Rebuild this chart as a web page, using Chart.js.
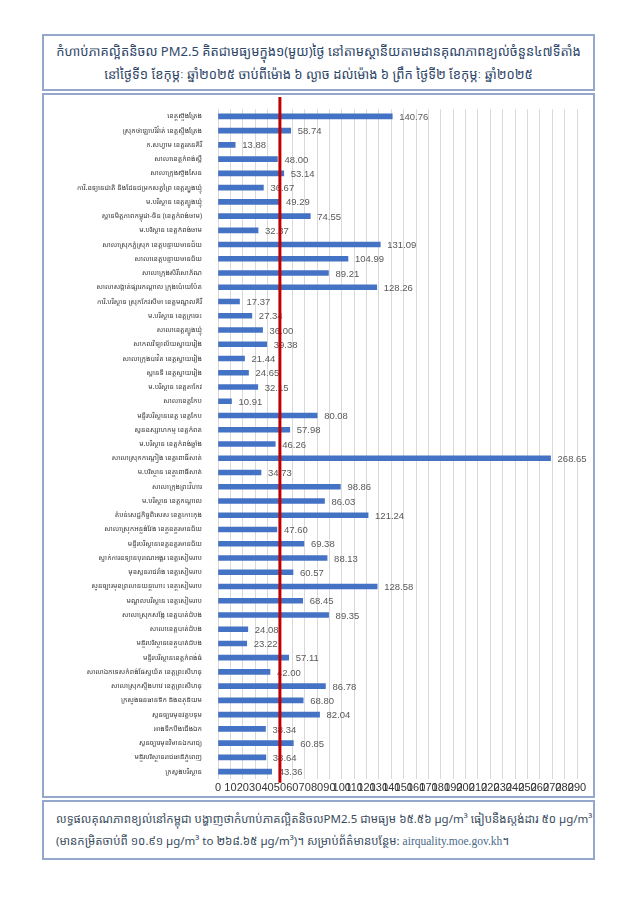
<!DOCTYPE html>
<html lang="km">
<head>
<meta charset="UTF-8">
<title>PM2.5</title>
<script src="https://cdn.jsdelivr.net/npm/chart.js@4.4.1/dist/chart.umd.min.js"></script>
<style>
    body { margin: 0; background: #fff; width: 636px; height: 900px; position: relative; font-family: "Noto Sans Khmer", "Khmer OS", "Noto Sans", "DejaVu Sans", sans-serif; }
    .box { position: absolute; left: 42px; width: 553px; border: 2px solid #94a8cc; box-sizing: border-box; }
    .title { top: 34px; height: 57px; text-align: center; color: #2e4668; font-size: 13px; line-height: 23px; padding-top: 4px; }
    .chartbox { top: 93px; height: 705px; }
    .note { top: 800px; height: 60px; color: #3a4b5e; font-size: 11.5px; line-height: 22px; padding: 6px 0 0 12px; }
    .note .url { font-family: "Liberation Serif", serif; color: #4a6a8a; }
    canvas { position: absolute; left: 2px; top: 2px; }
</style>
</head>
<body>
    <div class="box title">កំហាប់ភាគល្អិតនិចល PM2.5 គិតជាមធ្យមក្នុង១(មួយ)ថ្ងៃ នៅតាមស្ថានីយតាមដានគុណភាពខ្យល់ចំនួន៤៧ទីតាំង<br>នៅថ្ងៃទី១ ខែកុម្ភៈ ឆ្នាំ២០២៥ ចាប់ពីម៉ោង ៦ ល្ងាច ដល់ម៉ោង ៦ ព្រឹក ថ្ងៃទី២ ខែកុម្ភៈ ឆ្នាំ២០២៥</div>
    <div class="box chartbox"><canvas id="pm25" width="549" height="701"></canvas></div>
    <div class="box note">លទ្ធផលគុណភាពខ្យល់នៅកម្ពុជា បង្ហាញថាកំហាប់ភាគល្អិតនិចលPM2.5 ជាមធ្យម ៦៥.៥៦ µg/m³ ធៀបនឹងស្តង់ដារ ៥០ µg/m³<br>(មានកម្រិតចាប់ពី ១០.៩១ µg/m³ to ២៦៨.៦៥ µg/m³)។ សម្រាប់ព័ត៌មានបន្ថែម: <span class="url">airquality.moe.gov.kh</span>។</div>
<script>
    var stations = [
        'ខេត្តស្ទឹងត្រែង',
        'ស្រុកថាឡាបរិវ៉ាត់ ខេត្តស្ទឹងត្រែង',
        'ក.សហ្វាម ខេត្តរតនគិរី',
        'សាលាខេត្តកំពង់ស្ពឺ',
        'សាលាក្រុងស្ទឹងសែន',
        'ការិ.ឧទ្យានជាតិ និងដែនជម្រកសត្វព្រៃ ខេត្តត្បូងឃ្មុំ',
        'ម.បរិស្ថាន ខេត្តត្បូងឃ្មុំ',
        'ស្ពានមិត្តភាពកម្ពុជា-ចិន (ខេត្តកំពង់ចាម)',
        'ម.បរិស្ថាន ខេត្តកំពង់ចាម',
        'សាលាស្រុកភ្នំស្រុក ខេត្តបន្ទាយមានជ័យ',
        'សាលាខេត្តបន្ទាយមានជ័យ',
        'សាលាក្រុងសិរីសោភ័ណ',
        'សាលាសង្កាត់ផ្សារកណ្ដាល ក្រុងប៉ោយប៉ែត',
        'ការិ.បរិស្ថាន ស្រុកកែវសីមា ខេត្តមណ្ឌលគិរី',
        'ម.បរិស្ថាន ខេត្តក្រចេះ',
        'សាលាខេត្តត្បូងឃ្មុំ',
        'សាកលវិទ្យាល័យស្វាយរៀង',
        'សាលាក្រុងបាវិត ខេត្តស្វាយរៀង',
        'ស្ពានទី ខេត្តស្វាយរៀង',
        'ម.បរិស្ថាន ខេត្តតាកែវ',
        'សាលាខេត្តកែប',
        'មន្ទីរបរិស្ថានខេត្ត ខេត្តកែប',
        'សួនឧស្សាហកម្ម ខេត្តកំពត',
        'ម.បរិស្ថាន ខេត្តកំពង់ឆ្នាំង',
        'សាលាស្រុកកណ្ដៀង ខេត្តពោធិ៍សាត់',
        'ម.បរិស្ថាន ខេត្តពោធិ៍សាត់',
        'សាលាក្រុងព្រះវិហារ',
        'ម.បរិស្ថាន ខេត្តកណ្ដាល',
        'តំបន់សេដ្ឋកិច្ចពិសេស ខេត្តកោះកុង',
        'សាលាស្រុកអន្លង់វែង ខេត្តឧត្តរមានជ័យ',
        'មន្ទីរបរិស្ថានខេត្តឧត្តរមានជ័យ',
        'ស្នាក់ការឧទ្យានបុរាណអង្គរ ខេត្តសៀមរាប',
        'មុខសួនរាជវាំង ខេត្តសៀមរាប',
        'សួនច្បារមុខព្រលានយន្តហោះ ខេត្តសៀមរាប',
        'មណ្ឌលបរិស្ថាន ខេត្តសៀមរាប',
        'សាលាស្រុកសង្កែ ខេត្តបាត់ដំបង',
        'សាលាខេត្តបាត់ដំបង',
        'មន្ទីរបរិស្ថានខេត្តបាត់ដំបង',
        'មន្ទីរបរិស្ថានខេត្តកំពង់ធំ',
        'សាលាឯកទេសកំពង់ផែស្វយ័ត ខេត្តព្រះសីហនុ',
        'សាលាស្រុកស្ទឹងហាវ ខេត្តព្រះសីហនុ',
        'ក្រសួងធនធានទឹក និងឧតុនិយម',
        'សួនច្បារមុខវត្តបទុម',
        'អាងទឹកបឹងជើងឯក',
        'សួនច្បារមុខវិមានឯករាជ្យ',
        'មន្ទីរបរិស្ថានរាជធានីភ្នំពេញ',
        'ក្រសួងបរិស្ថាន'
    ];
    var pm25 = [
        140.76, 58.74, 13.88, 48.00, 53.14, 36.67, 49.29, 74.55, 32.37,
        131.09, 104.99, 89.21, 128.26, 17.37, 27.34, 36.00, 39.38, 21.44,
        24.65, 32.15, 10.91, 80.08, 57.98, 46.26, 268.65, 34.73, 98.86,
        86.03, 121.24, 47.60, 69.38, 88.13, 60.57, 128.58, 68.45, 89.35,
        24.08, 23.22, 57.11, 42.00, 86.78, 68.80, 82.04, 38.34, 60.85,
        38.64, 43.36
    ];
    var standard = 50;
    var xMax = 290;

    // value labels right of each bar
    var valueLabels = {
        id: 'valueLabels',
        afterDatasetsDraw: function(chart) {
            var ctx = chart.ctx;
            var meta = chart.getDatasetMeta(0);
            ctx.save();
            ctx.font = '9.5px "Liberation Sans", Arial, sans-serif';
            ctx.fillStyle = '#595959';
            ctx.textBaseline = 'middle';
            meta.data.forEach(function(bar, i) {
                ctx.fillText(pm25[i].toFixed(2), bar.x + 7, bar.y + 1);
            });
            ctx.restore();
        }
    };

    // red standard line at 50
    var standardLine = {
        id: 'standardLine',
        afterDatasetsDraw: function(chart) {
            var x = chart.scales.x.getPixelForValue(standard);
            var ctx = chart.ctx;
            ctx.save();
            ctx.strokeStyle = '#c00000';
            ctx.lineWidth = 3;
            ctx.beginPath();
            ctx.moveTo(x, 0);
            ctx.lineTo(x, chart.chartArea.bottom + 4);
            ctx.stroke();
            ctx.restore();
        }
    };

    new Chart(document.getElementById('pm25'), {
        type: 'bar',
        data: {
            labels: stations,
            datasets: [{
                data: pm25,
                backgroundColor: '#4472c4',
                barThickness: 5
            }]
        },
        plugins: [valueLabels, standardLine],
        options: {
            indexAxis: 'y',
            responsive: false,
            animation: false,
            layout: { padding: { top: 8, right: 18, bottom: 0, left: 0 } },
            plugins: { legend: { display: false }, tooltip: { enabled: false } },
            scales: {
                x: {
                    min: 0,
                    max: xMax,
                    grid: { color: '#d9d9d9', drawTicks: false },
                    border: { display: false },
                    ticks: {
                        stepSize: 10,
                        autoSkip: false,
                        maxRotation: 0,
                        padding: 3,
                        color: '#333333',
                        font: { size: 11, family: '"Liberation Sans", Arial, sans-serif' }
                    }
                },
                y: {
                    grid: { display: false },
                    border: { display: false },
                    afterFit: function(scale) { scale.width = 172; },
                    ticks: {
                        autoSkip: false,
                        padding: 8,
                        color: '#404040',
                        font: { size: 7, family: '"Noto Sans Khmer", "Khmer OS", "Noto Sans", sans-serif' }
                    }
                }
            }
        }
    });
</script>
</body>
</html>
